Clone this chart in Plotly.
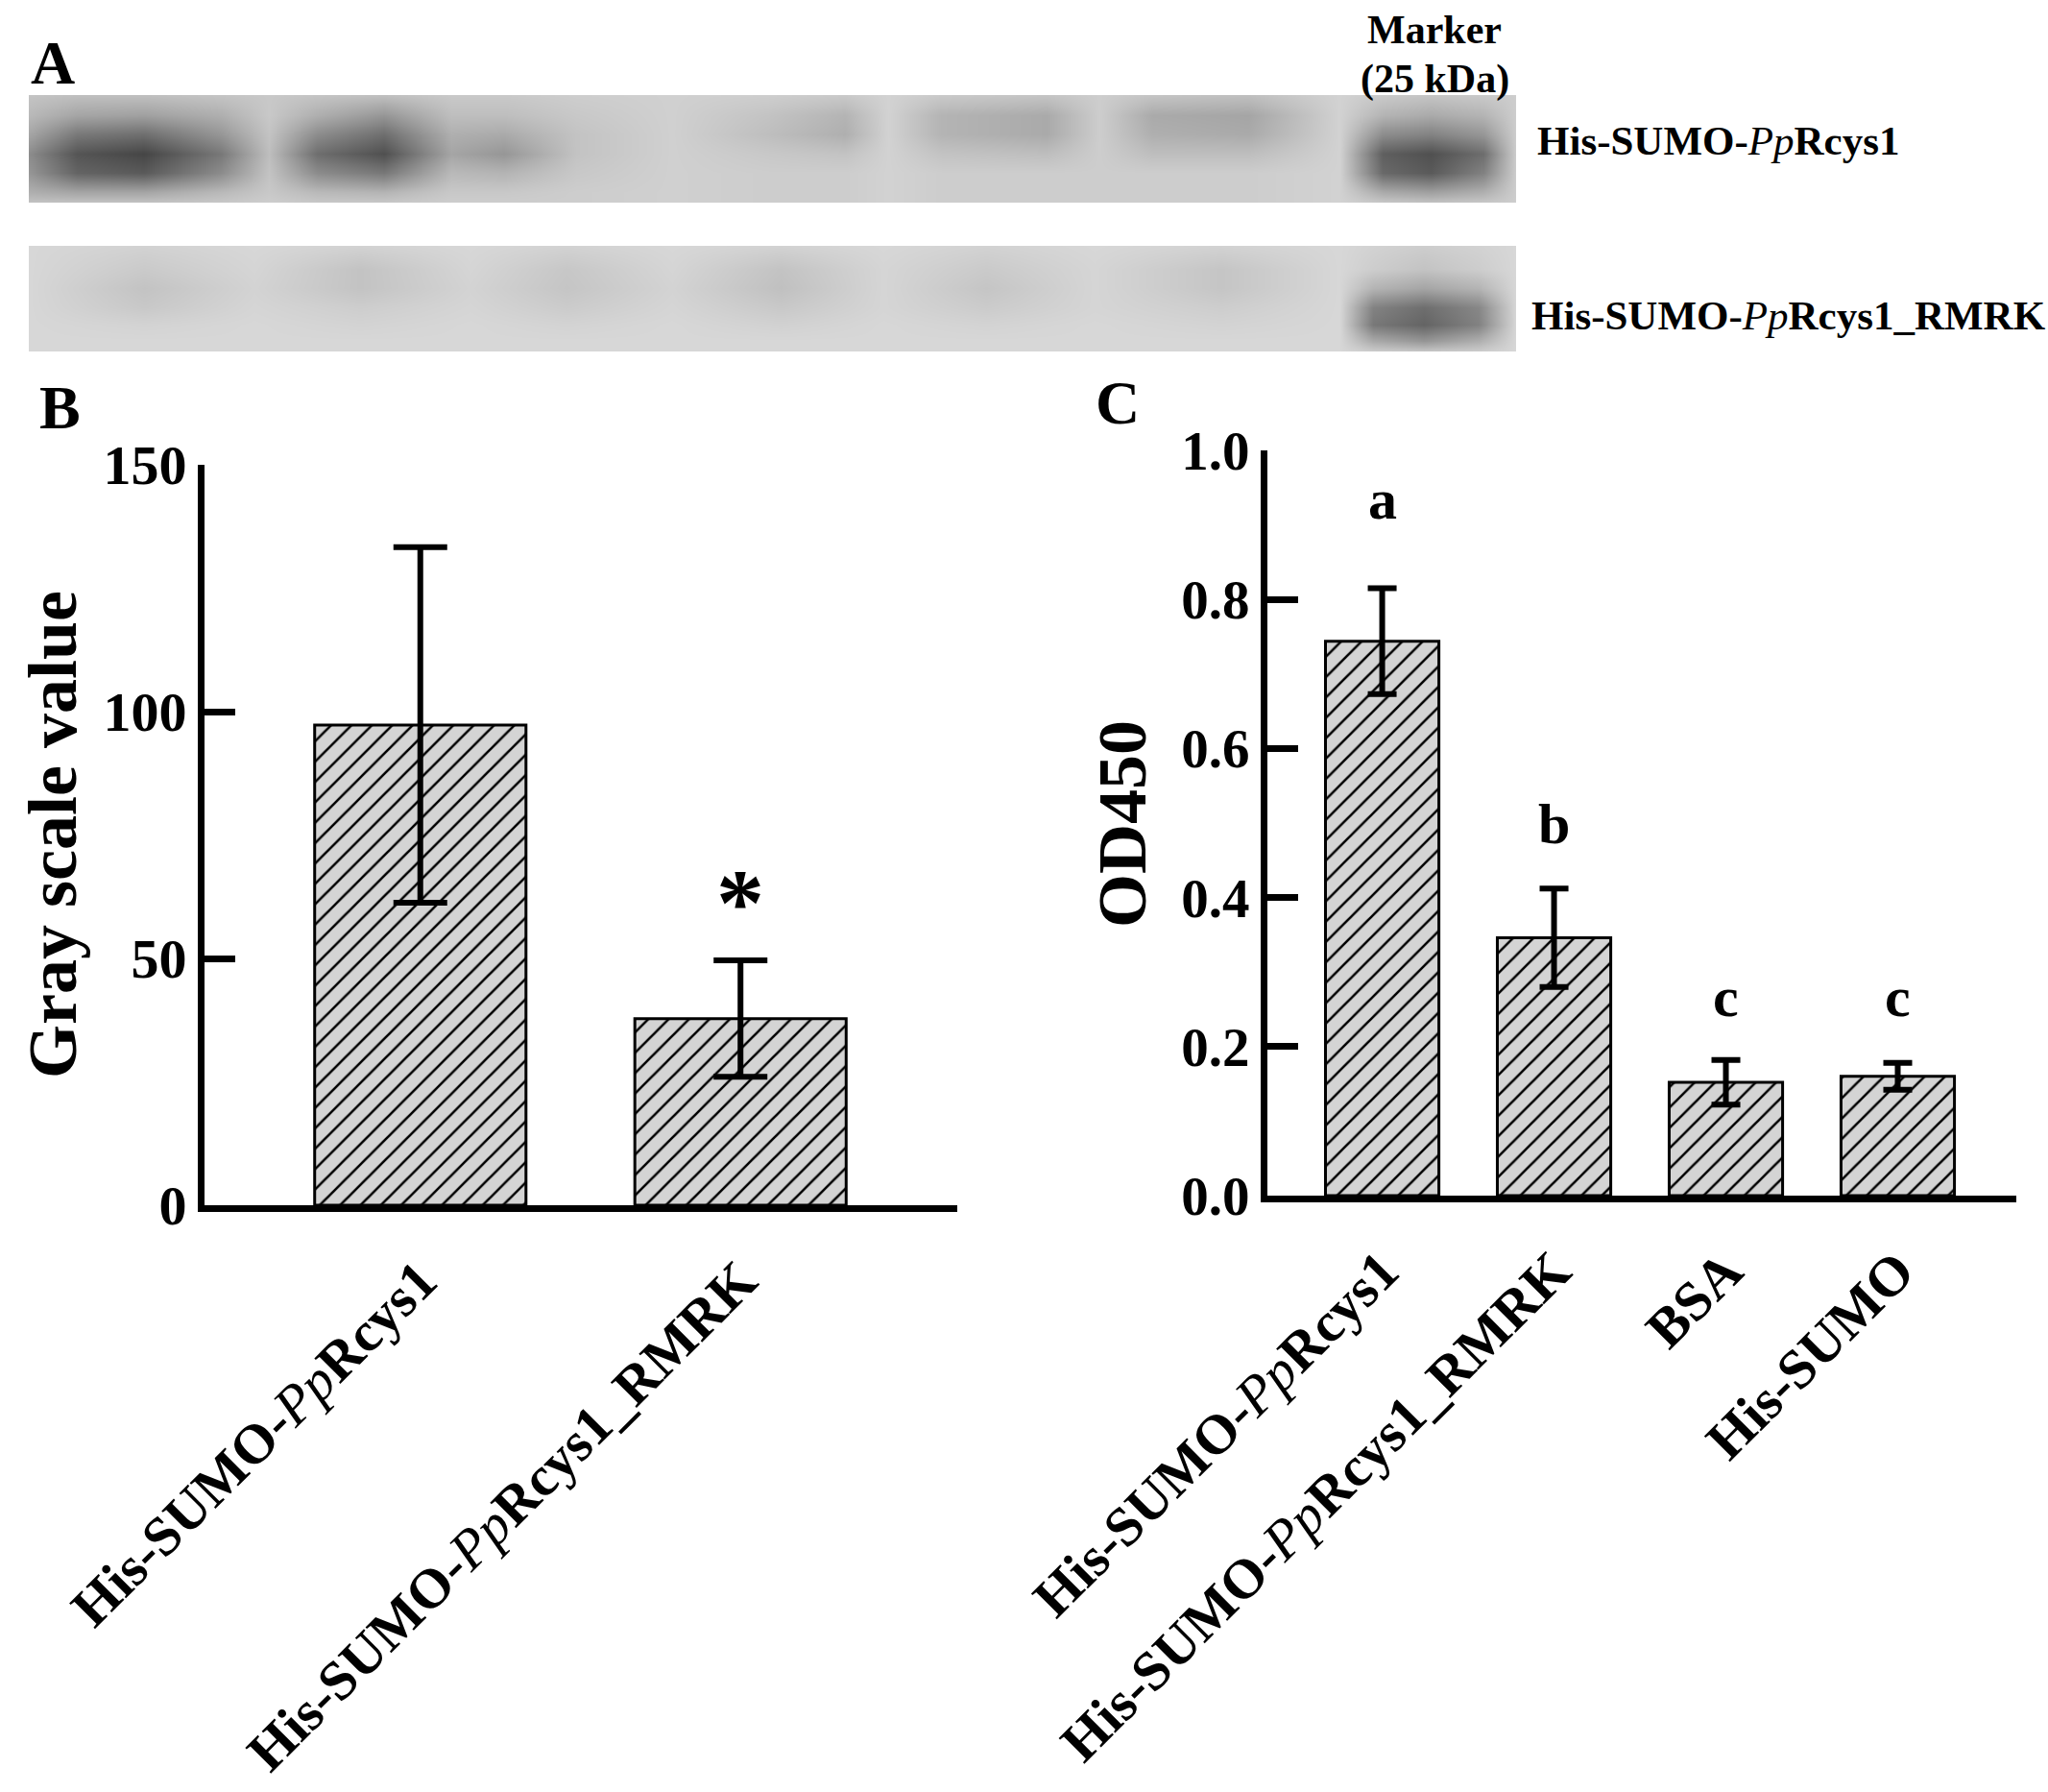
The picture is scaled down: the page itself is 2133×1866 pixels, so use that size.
import plotly.graph_objects as go

W, H = 2133, 1866

# ---- data ----
# panel B: western blot gray scale value
b_labels = ["His-SUMO-<span style='font-weight:normal'><i>Pp</i></span>Rcys1",
            "His-SUMO-<span style='font-weight:normal'><i>Pp</i></span>Rcys1_RMRK"]
b_means = [97.3, 37.8]
b_errs = [36.0, 11.8]

# panel C: OD450
c_labels = ["His-SUMO-<span style='font-weight:normal'><i>Pp</i></span>Rcys1",
            "His-SUMO-<span style='font-weight:normal'><i>Pp</i></span>Rcys1_RMRK",
            "BSA", "His-SUMO"]
c_means = [0.744, 0.346, 0.152, 0.160]
c_errs = [0.071, 0.066, 0.030, 0.018]
c_letters = ["a", "b", "c", "c"]
c_letter_y = [0.925, 0.49, 0.258, 0.258]

# panel A: blot band gray levels (0 = black, 255 = white), sampled across the membrane
blot1_x = [30, 80, 150, 230, 280, 330, 400, 470, 525, 600, 700, 800, 880, 925,
           980, 1090, 1145, 1200, 1300, 1395, 1440, 1490, 1545, 1579]
blot1_y = [100, 120, 140, 160, 180, 200, 211]
blot1_z = [
    [195, 190, 190, 195, 200, 195, 190, 200, 200, 205, 208, 205, 200, 210, 200, 195, 205, 195, 190, 210, 200, 195, 200, 205],
    [185, 165, 160, 175, 200, 175, 150, 190, 190, 200, 208, 195, 180, 210, 180, 170, 205, 170, 165, 210, 180, 170, 180, 205],
    [165, 120, 110, 150, 195, 140, 110, 175, 170, 195, 208, 190, 175, 210, 180, 170, 205, 175, 170, 210, 140, 130, 150, 205],
    [140, 85, 70, 120, 190, 110, 80, 165, 150, 195, 208, 200, 195, 210, 195, 190, 205, 190, 190, 210, 95, 80, 110, 205],
    [150, 100, 90, 140, 195, 140, 120, 185, 180, 200, 208, 205, 205, 210, 205, 205, 205, 205, 205, 210, 105, 90, 130, 205],
    [175, 165, 165, 185, 200, 185, 180, 200, 200, 205, 208, 205, 205, 210, 205, 205, 205, 205, 205, 210, 170, 160, 175, 205],
    [195, 195, 195, 200, 205, 200, 200, 205, 205, 205, 208, 205, 205, 210, 205, 205, 205, 205, 205, 210, 200, 195, 200, 205],
]

blot2_x = [30, 150, 265, 375, 490, 590, 700, 813, 920, 1027, 1140, 1272, 1395, 1430, 1483, 1540, 1579]
blot2_y = [256, 280, 300, 320, 338, 355, 366]
blot2_z = [
    [215, 210, 215, 210, 215, 210, 215, 210, 215, 210, 215, 210, 215, 210, 205, 210, 215],
    [215, 202, 213, 195, 213, 199, 213, 195, 213, 202, 213, 197, 215, 205, 195, 205, 215],
    [215, 195, 211, 195, 211, 197, 211, 192, 213, 197, 213, 197, 215, 180, 165, 180, 215],
    [215, 200, 213, 205, 213, 203, 213, 200, 213, 203, 213, 205, 215, 130, 110, 135, 215],
    [215, 211, 215, 211, 215, 211, 215, 209, 215, 211, 215, 211, 215, 120, 100, 130, 215],
    [215, 215, 215, 215, 215, 215, 215, 215, 215, 215, 215, 215, 215, 170, 150, 175, 215],
    [215, 215, 215, 215, 215, 215, 215, 215, 215, 215, 215, 215, 215, 205, 200, 205, 215],
]


def px(x):
    return x / W


def py(y):
    return 1 - y / H


FONT = "Liberation Serif"
gray_scale = [[0, "rgb(0,0,0)"], [1, "rgb(255,255,255)"]]
hatch = dict(shape="/", fgcolor="black", bgcolor="#d4d4d4", size=15, solidity=0.17)

fig = go.Figure()

fig.add_trace(go.Heatmap(x=blot1_x, y=blot1_y, z=blot1_z, colorscale=gray_scale,
                         zmin=0, zmax=255, zsmooth="best", showscale=False,
                         xaxis="x3", yaxis="y3", hoverinfo="skip"))
fig.add_trace(go.Heatmap(x=blot2_x, y=blot2_y, z=blot2_z, colorscale=gray_scale,
                         zmin=0, zmax=255, zsmooth="best", showscale=False,
                         xaxis="x4", yaxis="y4", hoverinfo="skip"))

fig.add_trace(go.Bar(
    x=list(range(len(b_means))), y=b_means, width=0.66,
    marker=dict(color="#d4d4d4", pattern=hatch, line=dict(color="black", width=3)),
    error_y=dict(type="data", array=b_errs, color="black", thickness=6, width=28),
    xaxis="x", yaxis="y"))
fig.add_trace(go.Bar(
    x=list(range(len(c_means))), y=c_means, width=0.66,
    marker=dict(color="#d4d4d4", pattern=hatch, line=dict(color="black", width=3)),
    error_y=dict(type="data", array=c_errs, color="black", thickness=6, width=15),
    xaxis="x2", yaxis="y2"))

axis_common = dict(showline=True, linewidth=7, linecolor="black", showgrid=False,
                   zeroline=False, fixedrange=True, automargin=False)
hidden = dict(visible=False, fixedrange=True, automargin=False)

fig.update_layout(
    template="none",
    width=W, height=H, margin=dict(l=0, r=0, t=0, b=0, pad=0), autosize=False,
    paper_bgcolor="white", plot_bgcolor="white", showlegend=False,
    font=dict(family=FONT, color="black", weight="bold"),
    xaxis=dict(domain=[px(213), px(997)], range=[-0.674, 1.677], anchor="y",
               tickvals=list(range(len(b_labels))), ticktext=b_labels, ticks="",
               tickangle=-45, tickfont=dict(size=58), ticklabelstandoff=14, **axis_common),
    yaxis=dict(domain=[py(1255), py(484)], range=[0, 150], anchor="x",
               tickvals=[0, 50, 100, 150], ticks="inside", ticklen=32, tickwidth=7,
               tickcolor="black", tickfont=dict(size=58), **axis_common),
    xaxis2=dict(domain=[px(1320), px(2100)], range=[-0.668, 3.69], anchor="y2",
                tickvals=list(range(len(c_labels))), ticktext=c_labels, ticks="",
                tickangle=-45, tickfont=dict(size=58), ticklabelstandoff=14, **axis_common),
    yaxis2=dict(domain=[py(1245), py(469)], range=[0, 1.0], anchor="x2",
                tickvals=[0, 0.2, 0.4, 0.6, 0.8, 1.0], tickformat=".1f",
                ticks="inside", ticklen=32, tickwidth=7, tickcolor="black",
                tickfont=dict(size=57), **axis_common),
    xaxis3=dict(domain=[px(30), px(1579)], range=[30, 1579], anchor="y3", **hidden),
    yaxis3=dict(domain=[py(211), py(99)], range=[211, 99], anchor="x3", **hidden),
    xaxis4=dict(domain=[px(30), px(1579)], range=[30, 1579], anchor="y4", **hidden),
    yaxis4=dict(domain=[py(366), py(256)], range=[366, 256], anchor="x4", **hidden),
)

ann = []
# panel letters
for letter, (x, y) in zip("ABC", [(55, 66), (62, 424), (1164, 420)]):
    ann.append(dict(text=letter, x=px(x), y=py(y), xref="paper", yref="paper",
                    showarrow=False, font=dict(size=64), xanchor="center", yanchor="middle"))
# blot labels
ann.append(dict(text="Marker", x=px(1494), y=py(31), xref="paper", yref="paper",
                showarrow=False, font=dict(size=42), xanchor="center", yanchor="middle"))
ann.append(dict(text="(25 kDa)", x=px(1494), y=py(82), xref="paper", yref="paper",
                showarrow=False, font=dict(size=42), xanchor="center", yanchor="middle"))
ann.append(dict(text=b_labels[0], x=px(1599), y=py(147), xref="paper", yref="paper",
                showarrow=False, font=dict(size=43), xanchor="left", yanchor="middle"))
ann.append(dict(text=b_labels[1], x=px(1593), y=py(329), xref="paper", yref="paper",
                showarrow=False, font=dict(size=43), xanchor="left", yanchor="middle"))
# axis titles
ann.append(dict(text="Gray scale value", x=px(55), y=py(869), xref="paper", yref="paper",
                showarrow=False, textangle=-90, font=dict(size=72),
                xanchor="center", yanchor="middle"))
ann.append(dict(text="OD450", x=px(1169), y=py(858), xref="paper", yref="paper",
                showarrow=False, textangle=-90, font=dict(size=72),
                xanchor="center", yanchor="middle"))
# significance marks
ann.append(dict(text="*", x=1, y=63, xref="x", yref="y", showarrow=False, yshift=-8,
                font=dict(size=100), xanchor="center", yanchor="middle"))
for i, (t, ly) in enumerate(zip(c_letters, c_letter_y)):
    ann.append(dict(text=t, x=i, y=ly, xref="x2", yref="y2", showarrow=False, yshift=7,
                    font=dict(size=60), xanchor="center", yanchor="middle"))
fig.update_layout(annotations=ann)

fig.write_html("out.html", config={"displayModeBar": False},
               post_script="document.body.style.margin='0';")
